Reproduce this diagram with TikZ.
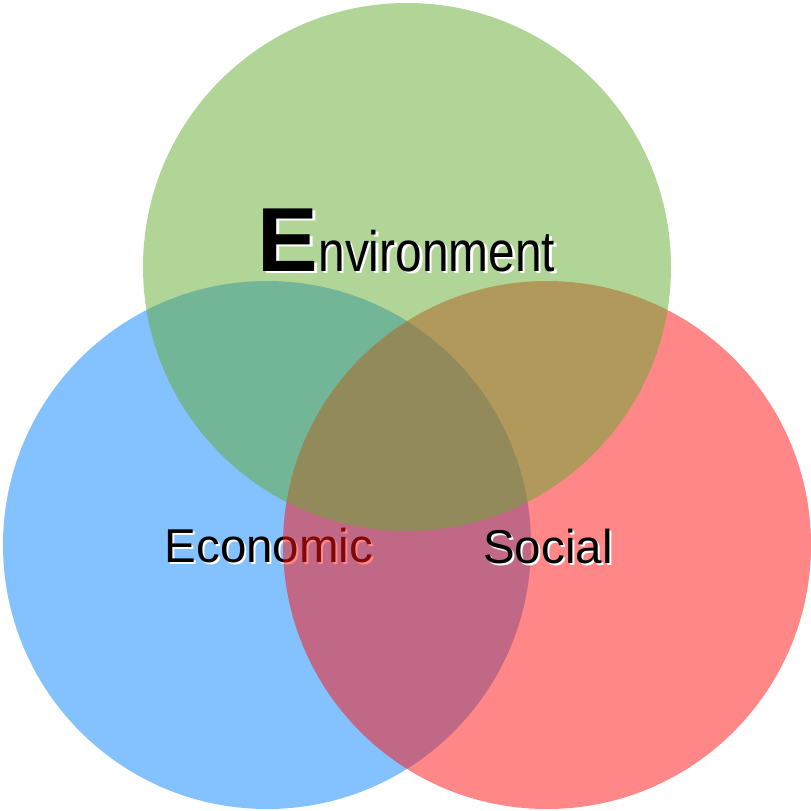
\documentclass[tikz,border=0pt]{standalone}
\usepackage{fontspec}
\setmainfont{Liberation Sans}
\definecolor{cblue}{RGB}{10,132,255}
\definecolor{cred}{RGB}{255,16,16}
\definecolor{cgreen}{RGB}{100,172,48}
\begin{document}
\begin{tikzpicture}[x=1pt,y=-1pt,
  disc/.style={circle,inner sep=0pt,minimum size=528pt,fill opacity=0.5,draw=none},
  lbl/.style={anchor=base west,inner sep=0pt,text=black},
  shadow/.style={anchor=base west,inner sep=0pt,text=white},
  mid/.style={font=\fontsize{47.5}{50}\selectfont}]
\useasboundingbox[fill=white] (0,0) rectangle (811,811);
% blue circle
\node[disc,fill=cblue] (blue) at (267,545) {};
\node[shadow,mid] (econS) at (166.5,564) {Economic};
\node[lbl,mid] (econ) at (164.5,562) {Economic};
% red circle
\node[disc,fill=cred] (red) at (547,545) {};
\node[shadow,mid] (socS) at (485,565) {Social};
\node[lbl,mid] (soc) at (483,563) {Social};
% green circle
\node[disc,fill=cgreen] (green) at (407,267) {};
\node[shadow] (envS) at (260,273.5) {{\fontsize{91}{91}\selectfont\bfseries E}\scalebox{0.84}[1]{\fontsize{57}{57}\selectfont nvironment}};
\node[lbl] (env) at (257.5,271) {{\fontsize{91}{91}\selectfont\bfseries E}\scalebox{0.84}[1]{\fontsize{57}{57}\selectfont nvironment}};
\end{tikzpicture}
\end{document}
